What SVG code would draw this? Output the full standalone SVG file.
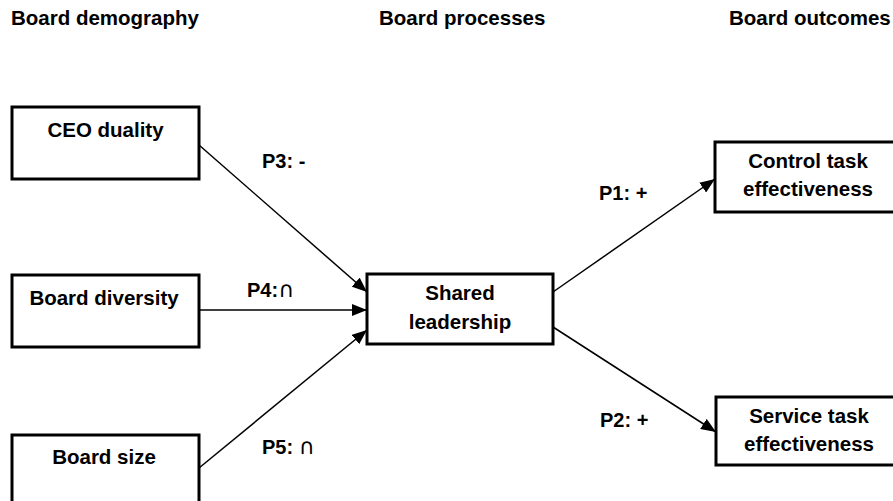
<svg xmlns="http://www.w3.org/2000/svg" width="893" height="501" viewBox="0 0 893 501">
<style>
  text { font-family: "Liberation Sans", Arial, sans-serif; font-weight: bold; font-size: 20.5px; fill: #000; }
  .box { fill: #fff; stroke: #000; stroke-width: 3; }
  .c { text-anchor: middle; }
  .conn line { stroke: #000; stroke-width: 1.5; marker-end: url(#ah); }
  .lbl { font-size: 20px; }
  .cap { font-family: "DejaVu Sans", "Liberation Sans", sans-serif; font-weight: normal; font-size: 22px; }
</style>
<defs>
  <marker id="ah" markerUnits="userSpaceOnUse" markerWidth="16" markerHeight="12" viewBox="0 0 16 12" refX="15" refY="6" orient="auto">
    <path d="M0,0 L15,6 L0,12 Z" fill="#000"/>
  </marker>
</defs>
<rect width="893" height="501" fill="#fff"/>

<g id="headers">
  <text x="11" y="25">Board demography</text>
  <text x="379" y="25">Board processes</text>
  <text x="729" y="25">Board outcomes</text>
</g>

<g id="ceo-duality">
  <rect class="box" x="12" y="107" width="187" height="72"/>
  <text class="c" x="105.5" y="137">CEO duality</text>
</g>
<g id="board-diversity">
  <rect class="box" x="12" y="275" width="187" height="72"/>
  <text class="c" x="104" y="305">Board diversity</text>
</g>
<g id="board-size">
  <rect class="box" x="12" y="435" width="187" height="75"/>
  <text class="c" x="104" y="464">Board size</text>
</g>
<g id="shared-leadership">
  <rect class="box" x="367" y="274" width="186" height="70"/>
  <text class="c" x="460" y="300">Shared</text>
  <text class="c" x="460" y="329">leadership</text>
</g>
<g id="control-task">
  <rect class="box" x="715" y="142" width="186" height="70"/>
  <text class="c" x="808" y="168">Control task</text>
  <text class="c" x="808" y="196">effectiveness</text>
</g>
<g id="service-task">
  <rect class="box" x="716" y="397" width="186" height="68"/>
  <text class="c" x="809" y="423">Service task</text>
  <text class="c" x="809" y="451">effectiveness</text>
</g>

<g id="connectors" class="conn">
  <line x1="199" y1="145" x2="367" y2="292"/>
  <line x1="199" y1="310" x2="367" y2="310"/>
  <line x1="199" y1="468" x2="367" y2="330"/>
  <line x1="553" y1="292" x2="715" y2="179"/>
  <line x1="553" y1="327" x2="716" y2="432"/>
</g>

<g id="labels">
  <text class="lbl" x="262" y="168">P3: -</text>
  <text class="lbl" x="247" y="297">P4:<tspan class="cap">∩</tspan></text>
  <text class="lbl" x="262" y="454">P5: <tspan class="cap">∩</tspan></text>
  <text class="lbl" x="599" y="200">P1: +</text>
  <text class="lbl" x="600" y="427">P2: +</text>
</g>
</svg>
